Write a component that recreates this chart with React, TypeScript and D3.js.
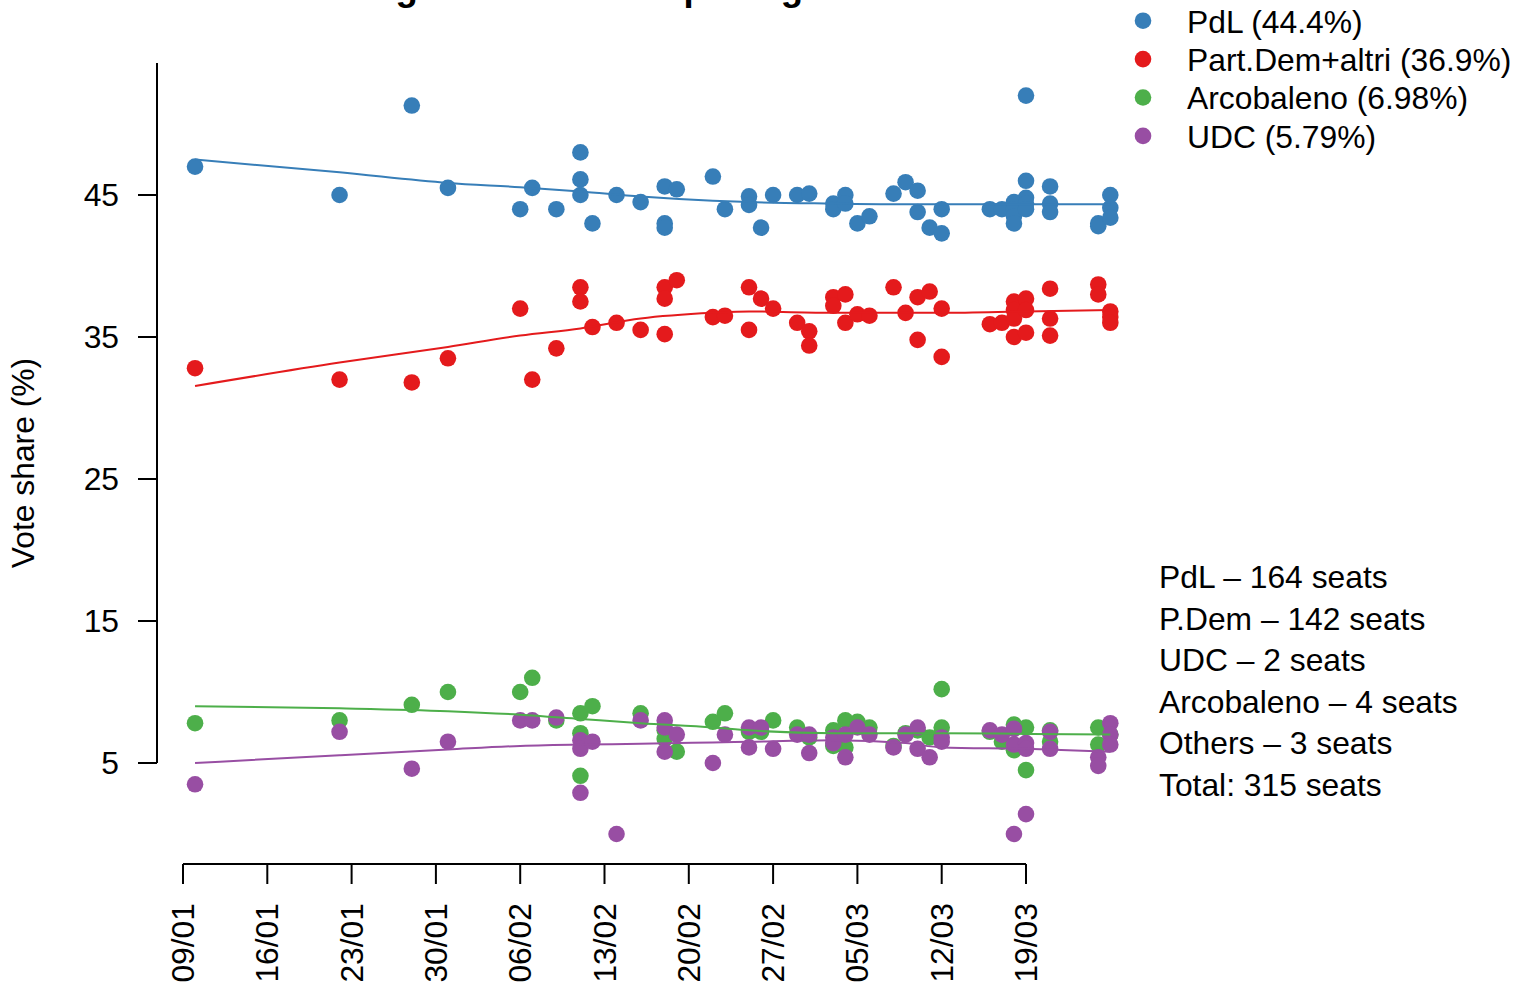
import React from "react";
import * as d3 from "d3";

// poll dates (2008, MM-DD) and vote share per party
const pdlDates = ["01-10","01-22","01-28","01-31","02-06","02-07","02-09","02-11","02-11","02-11","02-12","02-14","02-16","02-18","02-18","02-18","02-19","02-22","02-23","02-25","02-25","02-26","02-27","02-29","03-01","03-03","03-03","03-04","03-04","03-05","03-06","03-08","03-09","03-10","03-10","03-11","03-12","03-12","03-16","03-17","03-18","03-18","03-18","03-18","03-19","03-19","03-19","03-19","03-19","03-21","03-21","03-21","03-25","03-25","03-26","03-26","03-26"];
const pdlShare = [47.0,45.0,51.3,45.5,44.0,45.5,44.0,48.0,46.1,45.0,43.0,45.0,44.5,45.6,43.0,42.7,45.4,46.3,44.0,44.9,44.3,42.7,45.0,45.0,45.1,44.4,44.0,45.0,44.4,43.0,43.5,45.1,45.9,45.3,43.8,42.7,44.0,42.3,44.0,44.0,44.5,44.0,43.5,43.0,52.0,46.0,44.8,44.4,44.0,45.6,44.4,43.8,43.0,42.8,45.0,44.1,43.4];

const pdDates = ["01-10","01-22","01-28","01-31","02-06","02-07","02-09","02-11","02-11","02-12","02-14","02-16","02-18","02-18","02-18","02-19","02-22","02-23","02-25","02-25","02-26","02-27","02-29","03-01","03-01","03-03","03-03","03-04","03-04","03-05","03-06","03-08","03-09","03-10","03-10","03-11","03-12","03-12","03-16","03-17","03-18","03-18","03-18","03-18","03-19","03-19","03-19","03-21","03-21","03-21","03-25","03-25","03-26","03-26","03-26"];
const pdShare = [32.8,32.0,31.8,33.5,37.0,32.0,34.2,38.5,37.5,35.7,36.0,35.5,38.5,37.7,35.2,39.0,36.4,36.5,38.5,35.5,37.7,37.0,36.0,35.4,34.4,37.8,37.2,38.0,36.0,36.6,36.5,38.5,36.7,37.8,34.8,38.2,37.0,33.6,35.9,36.0,37.5,36.9,36.3,35.0,37.7,36.9,35.3,38.4,36.3,35.1,38.7,38.0,36.8,36.4,36.0];

const arcDates = ["01-10","01-22","01-28","01-31","02-06","02-07","02-09","02-11","02-11","02-11","02-12","02-16","02-18","02-18","02-19","02-22","02-23","02-25","02-26","02-27","02-29","03-01","03-03","03-03","03-04","03-04","03-05","03-06","03-08","03-09","03-10","03-11","03-12","03-12","03-16","03-17","03-18","03-18","03-19","03-19","03-21","03-21","03-25","03-25","03-26"];
const arcShare = [7.8,8.0,9.1,10.0,10.0,11.0,8.0,8.5,7.1,4.1,9.0,8.5,7.3,6.7,5.8,7.9,8.5,7.2,7.2,8.0,7.5,6.8,7.3,6.2,8.0,6.1,7.9,7.5,6.2,7.1,7.3,6.8,10.2,7.5,7.2,6.5,7.7,5.9,7.5,4.5,7.3,6.5,7.5,6.3,7.0];

const udcDates = ["01-10","01-22","01-28","01-31","02-06","02-07","02-09","02-11","02-11","02-11","02-12","02-14","02-16","02-18","02-18","02-18","02-19","02-22","02-23","02-25","02-25","02-26","02-27","02-29","03-01","03-01","03-03","03-03","03-04","03-04","03-05","03-06","03-08","03-09","03-10","03-10","03-11","03-12","03-12","03-16","03-17","03-18","03-18","03-18","03-19","03-19","03-19","03-21","03-21","03-25","03-25","03-26","03-26","03-26"];
const udcShare = [3.5,7.2,4.6,6.5,8.0,8.0,8.2,6.6,6.0,2.9,6.5,0.0,8.0,8.0,7.5,5.8,7.0,5.0,7.0,7.5,6.1,7.5,6.0,7.0,7.0,5.7,6.8,6.4,7.0,5.4,7.5,7.0,6.1,7.0,7.5,6.0,5.4,6.8,6.5,7.3,7.0,7.4,6.3,0.0,6.4,6.0,1.4,7.2,6.0,5.4,4.8,7.8,7.0,6.3];

// smoothed trends, read at these dates
const trendDates = ["01-10","01-22","01-31","02-06","02-11","02-16","02-22","02-25","03-03","03-09","03-12","03-19","03-26"];
const pdlTrend = [47.5,46.6,45.85,45.55,45.25,44.9,44.6,44.5,44.4,44.35,44.35,44.35,44.35];
const pdTrend = [31.55,33.2,34.3,35.1,35.6,36.3,36.7,36.8,36.7,36.7,36.7,36.8,36.9];
const arcTrend = [9.0,8.85,8.65,8.4,8.1,7.8,7.5,7.3,7.1,7.1,7.1,7.05,7.0];
const udcTrend = [5.0,5.55,5.95,6.2,6.3,6.35,6.45,6.5,6.6,6.4,6.1,6.0,5.8];

const tickDates = ["01-09","01-16","01-23","01-30","02-06","02-13","02-20","02-27","03-05","03-12","03-19"];
const yTicks = [5, 15, 25, 35, 45];

const legendLabels = ["PdL (44.4%)", "Part.Dem+altri (36.9%)", "Arcobaleno (6.98%)", "UDC (5.79%)"];
const seatLines = ["PdL \u2013 164 seats", "P.Dem \u2013 142 seats", "UDC \u2013 2 seats", "Arcobaleno \u2013 4 seats", "Others \u2013 3 seats", "Total: 315 seats"];

const colors = ["#377EB8", "#E41A1C", "#4DAF4A", "#984EA3"];
const FONT = "'Liberation Sans', Arial, Helvetica, sans-serif";

const parseDay = d3.utcParse("%Y-%m-%d");
const day = (md: string) => parseDay("2008-" + md) as Date;

export default function App() {
  const width = 1516;
  const height = 985;

  const x = d3.scaleUtc().domain([day("01-09"), day("03-19")]).range([183, 1026]);
  const y = d3.scaleLinear().domain([5, 45]).range([763, 195]);

  const series = [
    { dates: pdlDates, vals: pdlShare, trend: pdlTrend },
    { dates: pdDates, vals: pdShare, trend: pdTrend },
    { dates: arcDates, vals: arcShare, trend: arcTrend },
    { dates: udcDates, vals: udcShare, trend: udcTrend },
  ];

  const line = d3.line<[string, number]>()
    .x(d => x(day(d[0])))
    .y(d => y(d[1]))
    .curve(d3.curveMonotoneX);

  const fmt = d3.utcFormat("%d/%m");
  const fs = 31.8;

  return (
    <svg width={width} height={height} style={{ position: "absolute", left: 0, top: 0, background: "#fff" }}
      fontFamily={FONT}>
      {/* title sits mostly above the top edge, as in the original */}
      <text x={652} y={-0.5} textAnchor="middle" fontWeight="bold" fontSize={36.5}>
        Italian general election polling 2008 Senate
      </text>

      {/* points */}
      {series.map((s, i) => (
        <g key={"p" + i} fill={colors[i]}>
          {s.vals.map((v, j) => (
            <circle key={j} cx={x(day(s.dates[j]))} cy={y(v)} r={8.3} />
          ))}
        </g>
      ))}

      {/* trend lines */}
      {series.map((s, i) => (
        <path key={"l" + i} d={line(trendDates.map((d, j) => [d, s.trend[j]] as [string, number])) || ""}
          fill="none" stroke={colors[i]} strokeWidth={2} />
      ))}

      {/* y axis */}
      <g stroke="#000" strokeWidth={2}>
        <line x1={157} x2={157} y1={y(5)} y2={63} />
        {yTicks.map(t => <line key={t} x1={138} x2={157} y1={y(t)} y2={y(t)} />)}
      </g>
      {yTicks.map(t => (
        <text key={t} x={119} y={y(t) + 11} textAnchor="end" fontSize={fs}>{t}</text>
      ))}
      <text transform={`translate(34,463) rotate(-90)`} textAnchor="middle" fontSize={fs}>Vote share (%)</text>

      {/* x axis */}
      <g stroke="#000" strokeWidth={2}>
        <line x1={x(day(tickDates[0]))} x2={x(day(tickDates[tickDates.length - 1]))} y1={864} y2={864} />
        {tickDates.map(t => <line key={t} x1={x(day(t))} x2={x(day(t))} y1={864} y2={884} />)}
      </g>
      {tickDates.map(t => (
        <text key={t} transform={`translate(${x(day(t)) + 11},903) rotate(-90)`} textAnchor="end" fontSize={fs}>
          {fmt(day(t))}
        </text>
      ))}

      {/* legend */}
      {legendLabels.map((l, i) => (
        <g key={l}>
          <circle cx={1143} cy={20.7 + i * 38.4} r={8.3} fill={colors[i]} />
          <text x={1187} y={32.5 + i * 38.4} fontSize={fs}>{l}</text>
        </g>
      ))}

      {/* seats */}
      {seatLines.map((l, i) => (
        <text key={l} x={1159} y={588 + i * 41.6} fontSize={fs}>{l}</text>
      ))}
    </svg>
  );
}
